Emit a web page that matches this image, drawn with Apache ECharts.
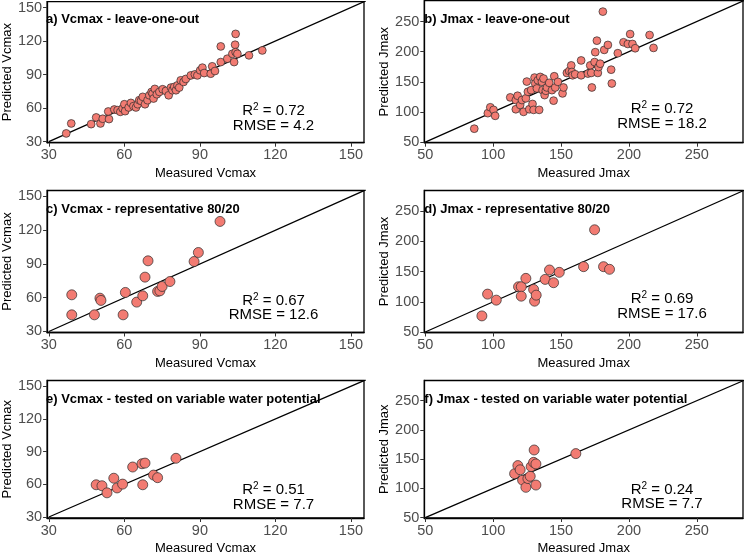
<!DOCTYPE html>
<html>
<head>
<meta charset="utf-8">
<script src="https://cdn.jsdelivr.net/npm/echarts@6/dist/echarts.min.js"></script>
<style>html,body{margin:0;padding:0;background:#fff}#c{width:745px;height:556px}</style>
</head>
<body>
<div id="c"></div>
<script>
// ---- Data ----
// a) Vcmax leave-one-out
const aMeasured = [36.9,38.9,46.8,48.8,50.5,51.4,53.6,53.9,56.0,57.3,58.4,59.3,60.0,60.3,61.7,62.6,63.6,64.6,65.3,65.9,66.6,67.3,68.2,69.2,69.9,70.8,71.2,71.6,72.1,72.9,73.9,75.2,76.5,77.6,78.5,79.1,79.8,80.5,81.1,81.8,82.4,83.5,84.4,86.4,88.0,89.0,90.1,91.0,91.7,94.3,94.9,96.0,98.3,98.3,100.9,102.9,103.6,104.0,104.2,104.2,104.9,109.5,114.8];
const aPredicted = [37.4,46.3,45.7,51.7,46.3,50.5,57.0,50.2,58.8,58.2,56.7,59.7,63.5,57.3,60.6,64.7,61.8,60.6,63.5,67.1,66.5,70.1,63.5,67.1,71.5,74.5,73.0,68.6,77.2,72.4,74.5,76.9,75.4,71.5,78.4,76.0,79.0,76.0,80.4,78.4,84.9,83.4,86.1,89.3,90.2,89.3,93.8,96.2,91.4,90.8,97.4,93.2,101.2,115.2,104.2,108.6,101.2,116.7,126.4,110.1,108.6,107.2,111.6];
// b) Jmax leave-one-out
const bMeasured = [86.1,96.1,97.9,100.3,101.5,112.6,116.7,116.7,118.0,119.9,121.2,122.4,124.1,124.8,125.6,126.6,128.0,129.0,129.8,130.5,131.0,132.2,132.9,133.9,134.7,135.9,136.4,137.1,137.9,138.8,139.6,141.3,143.3,144.5,145.0,145.7,147.7,151.1,151.8,154.3,156.0,157.5,158.0,158.5,160.4,164.8,164.8,169.8,171.5,172.2,172.7,174.7,175.2,176.4,177.1,177.6,178.8,180.8,181.8,184.5,186.9,187.4,191.8,196.0,199.2,200.9,202.6,204.6,215.2,218.1];
const bPredicted = [72.4,98.1,107.9,103.6,93.7,124.3,119.9,104.6,127.0,111.7,119.9,100.3,122.7,150.5,133.6,104.6,136.3,113.4,103.6,157.1,147.3,139.1,152.7,103.6,158.2,150.0,136.3,155.5,128.1,135.2,140.7,148.4,136.3,118.9,159.3,140.7,150.0,130.9,140.7,164.8,168.0,177.3,166.4,160.9,162.6,185.5,160.9,163.7,177.3,164.8,140.7,182.8,199.2,218.3,164.8,174.6,180.1,266.4,203.0,211.2,170.2,147.3,197.5,215.6,212.8,229.2,212.8,205.7,227.6,206.3];
// c) Vcmax representative 80/20
const cMeasured = [39.1,39.1,48.1,50.3,50.7,59.5,60.4,64.9,67.3,68.2,69.4,73.2,74.1,75.0,78.1,87.7,89.4,98.0];
const cPredicted = [62.6,44.8,44.8,59.6,57.6,44.8,64.7,56.1,61.7,78.3,92.8,65.6,66.1,70.0,74.4,92.2,100.2,127.8];
// d) Jmax representative 80/20
const dMeasured = [91.7,95.9,102.3,118.7,120.7,120.7,124.1,129.8,130.5,131.7,138.3,141.5,144.5,148.7,166.6,174.7,181.3,185.7];
const dPredicted = [76.7,112.8,102.8,125.0,125.0,109.4,138.9,120.6,101.1,111.1,137.2,152.8,131.7,148.9,158.3,219.4,158.3,153.9];
// e) Vcmax tested on variable water potential
const eMeasured = [48.8,51.1,53.1,55.8,57.1,59.3,63.3,67.0,68.2,67.3,71.6,73.2,80.5];
const ePredicted = [59.6,58.7,52.2,65.6,56.7,60.2,75.9,78.9,79.5,59.6,68.5,66.1,83.9];
// f) Jmax tested on variable water potential
const fMeasured = [115.8,118.2,119.9,121.7,124.1,125.6,127.3,128.0,129.8,130.2,131.5,131.5,160.9];
const fPredicted = [125.0,138.9,131.7,113.9,101.7,116.7,120.6,137.2,144.4,165.6,141.7,105.6,159.4];
// 1:1 reference lines
const vcDiag = [30, 160];
const jDiag = [50, 290];
// ticks
const vcTicks = [30, 60, 90, 120, 150];
const jTicks = [50, 100, 150, 200, 250];
// labels
const panelTitles = ['a) Vcmax - leave-one-out','b) Jmax - leave-one-out','c) Vcmax - representative 80/20','d) Jmax - representative 80/20','e) Vcmax - tested on variable water potential','f) Jmax - tested on variable water potential'];
const r2Values = ['0.72','0.72','0.67','0.69','0.51','0.24'];
const rmseValues = ['4.2','18.2','12.6','17.6','7.7','7.7'];
const xNames = ['Measured Vcmax','Measured Jmax'];
const yNames = ['Predicted Vcmax','Predicted Jmax'];

const measured = [aMeasured,bMeasured,cMeasured,dMeasured,eMeasured,fMeasured];
const predicted = [aPredicted,bPredicted,cPredicted,dPredicted,ePredicted,fPredicted];

// ---- Layout ----
const FONT = '"Liberation Sans", Arial, Helvetica, sans-serif';
const gridTops = [0.7, 190.5, 380.5];
const gridLefts = [46, 424.3];
const gridWidths = [318, 318.7];
const gridH = 142;
const ranges = [
  {x:[29.3,155.2], y:[29.1,155.3]},
  {x:[49.3,284.0], y:[49.2,284.5]}
];
const annX = [273.5, 662];
const annY = [[111,126],[108.5,124],[301,315],[298.5,313.5],[490,505],[490,504]];

const grids=[], xAxes=[], yAxes=[], series=[], graphics=[];
for (let i=0;i<6;i++){
  const col = i%2, row = Math.floor(i/2);
  const isJ = col===1;
  const ticks = isJ ? jTicks : vcTicks;
  const diag = isJ ? jDiag : vcDiag;
  grids.push({left:gridLefts[col], top:gridTops[row], width:gridWidths[col], height:gridH,
    show:true, borderColor:'#000', borderWidth:1.3, backgroundColor:'transparent', containLabel:false});
  const axisCommon = {
    type:'value', gridIndex:i, splitLine:{show:false},
    axisLine:{show:true, onZero:false, lineStyle:{color:'#000', width:1.3}},
    axisTick:{show:true, length:4, customValues:ticks, lineStyle:{color:'#333', width:1}},
    axisLabel:{show:true, customValues:ticks, color:'#4d4d4d', fontSize:14.5, fontFamily:FONT},
    nameLocation:'middle',
    nameTextStyle:{color:'#000', fontSize:13, fontFamily:FONT}
  };
  xAxes.push(Object.assign({}, axisCommon, {
    min:ranges[col].x[0], max:ranges[col].x[1], name:xNames[col], nameGap:24,
    axisLabel:Object.assign({}, axisCommon.axisLabel, {margin:5})
  }));
  yAxes.push(Object.assign({}, axisCommon, {
    min:ranges[col].y[0], max:ranges[col].y[1], name:yNames[col], nameGap:isJ?30:28,
    axisLabel:Object.assign({}, axisCommon.axisLabel, {margin:5})
  }));
  series.push({type:'line', xAxisIndex:i, yAxisIndex:i, data:[[diag[0],diag[0]],[diag[1],diag[1]]],
    symbol:'none', clip:true, silent:true, lineStyle:{color:'#000', width:1.3}, z:2, animation:false});
  series.push({type:'scatter', xAxisIndex:i, yAxisIndex:i,
    data: measured[i].map((v,k)=>[v, predicted[i][k]]),
    symbolSize: row===0 ? 7.8 : 10,
    itemStyle:{color:'#F27B72', borderColor:'#2b2b2b', borderWidth:0.7, opacity:1},
    z:3, animation:false});
  // panel title
  graphics.push({type:'text', left:gridLefts[col], top:gridTops[row]+12, z:10,
    style:{text:panelTitles[i], font:'bold 13px '+FONT, fill:'#000'}});
  // annotations
  graphics.push({type:'text', x:annX[col], y:annY[i][0], z:10,
    style:{text:'{r|R}{s|2}{r| = '+r2Values[i]+'}', align:'center', verticalAlign:'middle',
      rich:{r:{fontSize:15, fontFamily:FONT, fill:'#000', lineHeight:17},
            s:{fontSize:10, fontFamily:FONT, fill:'#000', lineHeight:10, verticalAlign:'top'}}}});
  graphics.push({type:'text', x:annX[col], y:annY[i][1], z:10,
    style:{text:'RMSE = '+rmseValues[i], align:'center', verticalAlign:'middle',
      font:'15px '+FONT, fill:'#000'}});
}

const chart = echarts.init(document.getElementById('c'), null, {renderer:'canvas'});
chart.setOption({
  animation:false,
  backgroundColor:'#fff',
  grid:grids, xAxis:xAxes, yAxis:yAxes, series:series,
  graphic:{elements:graphics}
});
</script>
</body>
</html>
